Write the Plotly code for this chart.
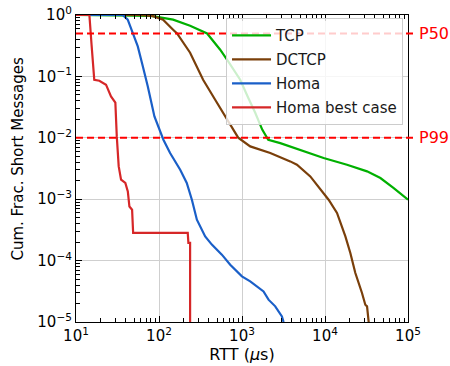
import math
import plotly.graph_objects as go

# ---- data (RTT in microseconds, cumulative fraction) ----
tcp_x = [10, 80, 148, 237, 380, 546, 682, 951, 1188, 1443, 1753, 2070, 2890, 5040, 9620, 18400, 32100, 46500, 67300, 100000]
tcp_y = [1.0, 0.97, 0.84, 0.67, 0.50, 0.272, 0.175, 0.0883, 0.045, 0.0256, 0.0136, 0.0093, 0.0082, 0.0064, 0.00469, 0.00365, 0.00284, 0.00221, 0.00152, 0.00098]

dctcp_x = [10, 60, 85, 112, 148, 165, 237, 340, 475, 627, 900, 1256, 2190, 3810, 4590, 6650, 8780, 11050, 13950, 17600, 20200, 23200, 27900, 30600, 32100, 33600]
dctcp_y = [1.0, 1.0, 0.96, 0.84, 0.576, 0.50, 0.243, 0.0883, 0.0417, 0.022, 0.01005, 0.00724, 0.00565, 0.00413, 0.00365, 0.00235, 0.00143, 0.00098, 0.000596, 0.000248, 0.000133, 6.28e-5, 2.97e-5, 1.91e-5, 1.8e-5, 1.0e-5]

homa_x = [10, 36.5, 42, 48.3, 55.5, 63.8, 73.3, 88.1, 113, 136, 180, 216, 249, 286, 360, 433, 572, 721, 998, 1256, 1817, 2087, 2515, 3027, 3170]
homa_y = [1.0, 1.0, 0.84, 0.50, 0.308, 0.146, 0.0687, 0.0223, 0.0093, 0.00565, 0.00302, 0.00184, 0.00098, 0.000464, 0.000248, 0.000182, 0.000125, 8.57e-5, 5.53e-5, 4.58e-5, 3.15e-5, 2.31e-5, 1.8e-5, 1.23e-5, 1.0e-5]

best_x = [10, 14.5, 15.4, 16.6, 19.1, 23.0, 26.4, 29.8, 31.0, 32.7, 34.9, 39.3, 42.1, 44.0, 47.4, 48.8, 222, 226, 237, 237]
best_y = [1.0, 1.0, 0.328, 0.0883, 0.0851, 0.0733, 0.0472, 0.0373, 0.01054, 0.00342, 0.00208, 0.00184, 0.00134, 0.00076, 0.000675, 0.000282, 0.000282, 0.000194, 0.000194, 1.0e-5]

series_names = ["TCP", "DCTCP", "Homa", "Homa best case"]
series_colors = ["#00b000", "#7a3f0a", "#1a5fc8", "#d62728"]

percentile_values = [0.5, 0.01]
percentile_labels = ["P50", "P99"]

x_tick_vals = [10, 100, 1000, 10000, 100000]
x_tick_text = ["10<sup>1</sup>", "10<sup>2</sup>", "10<sup>3</sup>", "10<sup>4</sup>", "10<sup>5</sup>"]
y_tick_vals = [1e-5, 1e-4, 1e-3, 1e-2, 1e-1, 1]
y_tick_text = ["10<sup>−5</sup>", "10<sup>−4</sup>", "10<sup>−3</sup>", "10<sup>−2</sup>", "10<sup>−1</sup>", "10<sup>0</sup>"]

FONT = "DejaVu Sans"

fig = go.Figure()
for name, xs, ys, col in zip(series_names,
                             [tcp_x, dctcp_x, homa_x, best_x],
                             [tcp_y, dctcp_y, homa_y, best_y],
                             series_colors):
    fig.add_trace(go.Scatter(x=xs, y=ys, mode="lines", name=name, legendgroup=name,
                             line=dict(color=col, width=2.2)))

for val, lab in zip(percentile_values, percentile_labels):
    fig.add_shape(type="line", xref="paper", yref="y", x0=0, x1=1.022, y0=val, y1=val,
                  line=dict(color="#ff0000", width=2, dash="7px,4px"))
    # annotations on a log axis take log10 positions
    fig.add_annotation(xref="paper", yref="y", x=1.027, y=math.log10(val), text=lab, showarrow=False,
                       xanchor="left", yanchor="middle",
                       font=dict(color="#ff0000", size=16, family=FONT))

# y-axis title placed as rotated text
fig.add_annotation(xref="paper", yref="paper", x=-0.175, y=0.532, text="Cum. Frac. Short Messages",
                   textangle=-90, showarrow=False, xanchor="center", yanchor="middle",
                   font=dict(size=15, family=FONT, color="black"))

def minor_vals(lo, hi):
    out = []
    for k in range(lo, hi):
        for m in range(2, 10):
            out.append(m * 10 ** k)
    return out

axis_common = dict(type="log", showline=True, linecolor="black", linewidth=1.2,
                   ticks="inside", ticklen=6, tickwidth=1, tickcolor="black",
                   showgrid=True, gridcolor="#cfcfcf", gridwidth=1, zeroline=False,
                   tickfont=dict(size=15, family=FONT, color="black"))

fig.update_xaxes(range=[1, 5], tickmode="array", tickvals=x_tick_vals, ticktext=x_tick_text,
                 mirror="allticks",
                 minor=dict(tickmode="array", tickvals=minor_vals(1, 5), ticks="inside", ticklen=4,
                            tickcolor="black", showgrid=False),
                 title=dict(text="RTT (<i>µ</i>s)", font=dict(size=16, family=FONT, color="black"), standoff=3),
                 **axis_common)
fig.update_yaxes(range=[-5, 0], tickmode="array", tickvals=y_tick_vals, ticktext=y_tick_text,
                 mirror=True,
                 minor=dict(tickmode="array", tickvals=minor_vals(-5, 0), ticks="inside", ticklen=4,
                            tickcolor="black", showgrid=False),
                 **axis_common)

fig.update_layout(
    width=450, height=366,
    margin=dict(l=76, r=42, t=15, b=44, autoexpand=False),
    plot_bgcolor="white", paper_bgcolor="white",
    font=dict(family=FONT, size=15, color="black"),
    legend=dict(x=0.985, y=0.99, xanchor="right", yanchor="top",
                bgcolor="rgba(255,255,255,0.8)", bordercolor="#cccccc", borderwidth=1,
                font=dict(size=15, family=FONT, color="#1a1a1a"), itemwidth=39,
                traceorder="grouped", tracegroupgap=1.5),
    showlegend=True,
)

fig.write_html("out.html", config={"displayModeBar": False},
               post_script="document.body.style.margin='0';document.body.style.overflow='hidden';")
